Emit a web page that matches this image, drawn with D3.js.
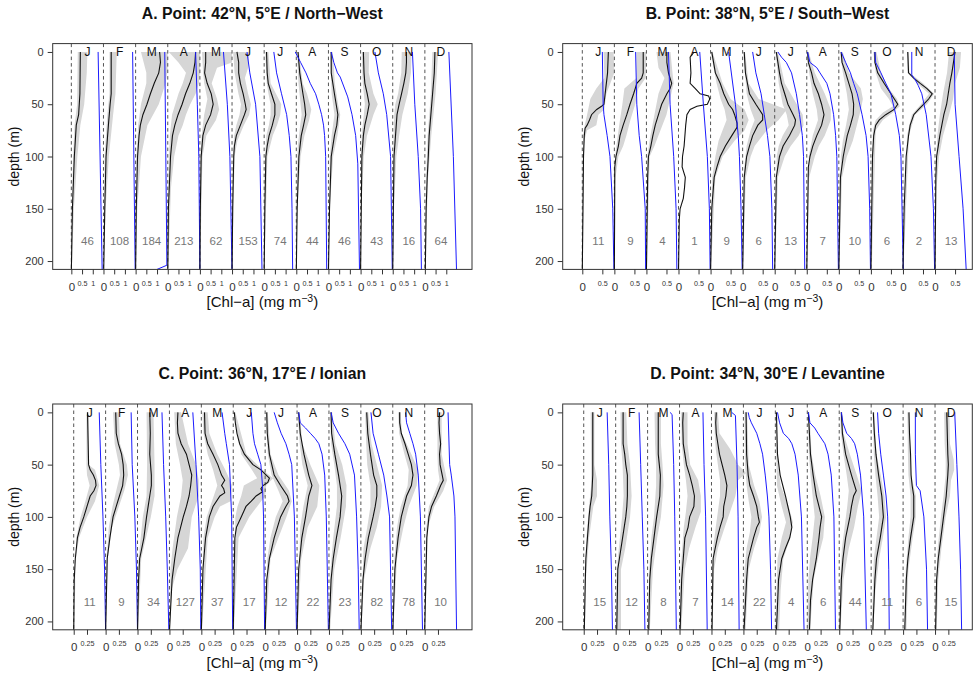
<!DOCTYPE html>
<html><head><meta charset="utf-8">
<script src="https://cdn.jsdelivr.net/npm/d3@7/dist/d3.min.js"></script>
<style>
body{margin:0;background:#fff}
text{font-family:"Liberation Sans",Arial,Helvetica,sans-serif}
</style>
</head><body>
<svg id="chart" width="973" height="676"></svg>
<script>
// ---------------- DATA ----------------
const months = ["J","F","M","A","M","J","J","A","S","O","N","D"];
const depthTicks = [0,50,100,150,200];

// Panel A
const A_title = "A. Point: 42°N, 5°E / North\u2212West";
const A_counts = [46,108,184,213,62,153,74,44,46,43,16,64];
const A_step = 1.5;
const A_smallTicks = [0.5,1];
const A_smallLabels = ["0.5","1"];
const A_black = [
 [[0,.42],[20,.41],[40,.4],[60,.34],[70,.23],[100,.14],[150,.05],[210,0]],
 [[0,.36],[40,.36],[50,.31],[70,.23],[100,.12],[150,.06],[210,.01]],
 [[0,1.12],[10,1.16],[20,1.08],[30,.87],[40,.69],[50,.53],[60,.34],[70,.22],[80,.16],[100,.09],[150,.03],[210,0]],
 [[0,1.3],[10,1.27],[20,1.19],[30,1.03],[40,.83],[50,.67],[60,.48],[70,.33],[80,.22],[100,.13],[150,.03],[210,0]],
 [[0,.27],[10,.27],[20,.22],[30,.34],[40,.53],[50,.62],[60,.5],[70,.27],[80,.14],[100,.06],[150,.02],[210,0]],
 [[0,.23],[10,.31],[20,.31],[30,.39],[40,.52],[50,.62],[55,.66],[60,.58],[70,.39],[80,.2],[90,.11],[100,.08],[150,.03],[210,0]],
 [[0,.11],[20,.14],[30,.19],[40,.34],[50,.5],[60,.5],[70,.38],[80,.23],[90,.14],[100,.08],[150,.03],[210,0]],
 [[0,.08],[20,.16],[40,.31],[50,.39],[60,.44],[70,.34],[80,.23],[100,.12],[150,.04],[210,0]],
 [[0,.13],[20,.13],[40,.28],[60,.44],[70,.39],[80,.28],[100,.13],[150,.05],[210,0]],
 [[0,.13],[20,.16],[30,.2],[40,.31],[50,.4],[60,.31],[70,.2],[80,.13],[100,.06],[210,0]],
 [[0,.64],[10,.64],[20,.61],[30,.52],[40,.41],[50,.3],[60,.2],[80,.13],[100,.06],[150,.03],[210,0]],
 [[0,.47],[20,.44],[40,.36],[60,.28],[80,.2],[100,.16],[120,.11],[150,.06],[210,.02]]
];
const A_blue = [
 [[0,1.25],[210,1.44]],
 [[0,1.36],[210,1.48]],
 [[0,1.36],[204,1.46],[208,1.0]],
 [[0,1.3],[50,1.38],[100,1.45],[210,1.5]],
 [[0,1.1],[50,1.28],[100,1.4],[210,1.5]],
 [[0,.7],[20,.83],[50,1.1],[100,1.3],[210,1.4]],
 [[0,.45],[20,.58],[40,.81],[60,1.05],[80,1.17],[100,1.25],[150,1.3],[210,1.33]],
 [[0,-.05],[10,.2],[20,.45],[30,.65],[40,.9],[50,1.05],[60,1.18],[70,1.27],[80,1.32],[100,1.37],[210,1.42]],
 [[0,.13],[10,.25],[20,.42],[24,.55],[43,.9],[60,1.1],[80,1.27],[107,1.37],[210,1.45]],
 [[0,.67],[20,.83],[40,1.06],[60,1.22],[100,1.4],[210,1.48]],
 [[0,.92],[50,1.03],[100,1.19],[150,1.3],[210,1.34]],
 [[0,1.12],[100,1.33],[210,1.48]]
];
const A_hi = [
 [[0,.75],[20,.72],[50,.6],[70,.42],[100,.28],[150,.12],[210,.02]],
 [[0,.62],[40,.56],[60,.45],[100,.25],[150,.1],[210,.02]],
 [[0,1.5],[15,1.5],[30,1.4],[50,1.08],[70,.55],[100,.25],[150,.08],[210,.01]],
 [[0,1.5],[20,1.5],[30,1.45],[40,1.3],[50,1.05],[60,.85],[70,.7],[80,.5],[100,.3],[130,.15],[210,.02]],
 [[0,1.5],[10,1.5],[15,.8],[30,.55],[45,.8],[55,.9],[65,.75],[80,.3],[100,.12],[210,.01]],
 [[0,.8],[15,.75],[25,.6],[40,.75],[50,.88],[60,.8],[70,.55],[85,.25],[100,.12],[210,.01]],
 [[0,.2],[30,.3],[40,.55],[50,.8],[60,.75],[70,.6],[80,.4],[100,.15],[210,.01]],
 [[0,.12],[30,.3],[40,.5],[55,.7],[65,.6],[80,.38],[100,.2],[150,.05],[210,.01]],
 [[0,.2],[30,.3],[50,.45],[60,.55],[80,.42],[100,.22],[150,.06],[210,.01]],
 [[0,.4],[20,.38],[40,.6],[50,.8],[60,.6],[80,.3],[100,.15],[150,.04],[210,.01]],
 [[0,.88],[20,.85],[40,.7],[60,.45],[80,.3],[100,.17],[150,.06],[210,.01]],
 [[0,.62],[40,.5],[80,.3],[120,.15],[210,.02]]
];
const A_lo = [
 [[0,.3],[50,.27],[70,.15],[100,.08],[150,.03],[210,0]],
 [[0,.28],[40,.28],[60,.18],[100,.05],[210,0]],
 [[0,.25],[20,.5],[30,.5],[50,.25],[70,.12],[100,.04],[210,0]],
 [[0,.05],[10,.5],[20,.85],[30,.7],[40,.5],[50,.35],[60,.2],[80,.1],[100,.05],[210,0]],
 [[0,.1],[20,.15],[30,.2],[45,.35],[60,.2],[80,.08],[100,.03],[210,0]],
 [[0,.05],[20,.12],[40,.3],[50,.42],[60,.35],[70,.2],[80,.1],[100,.04],[210,0]],
 [[0,.05],[30,.12],[40,.2],[50,.3],[60,.3],[70,.22],[80,.1],[100,.04],[210,0]],
 [[0,.03],[30,.1],[50,.2],[60,.25],[70,.18],[90,.07],[120,.02],[210,0]],
 [[0,.07],[40,.15],[60,.28],[80,.15],[100,.06],[210,0]],
 [[0,.05],[30,.1],[50,.2],[60,.15],[80,.05],[210,0]],
 [[0,.42],[20,.4],[40,.25],[50,.12],[60,.07],[100,.02],[210,0]],
 [[0,.35],[40,.28],[80,.13],[120,.06],[210,0]]
];

// Panel B
const B_title = "B. Point: 38°N, 5°E / South\u2212West";
const B_counts = [11,9,4,1,9,6,13,7,10,6,2,13];
const B_step = 0.8;
const B_smallTicks = [0.5];
const B_smallLabels = ["0.5"];
const B_black = [
 [[0,.65],[20,.63],[30,.6],[40,.57],[50,.54],[52,.48],[55,.36],[60,.23],[65,.18],[70,.12],[73,.07],[80,.05],[100,.03],[210,0]],
 [[0,.72],[20,.72],[25,.68],[30,.56],[35,.52],[40,.48],[50,.39],[60,.31],[70,.22],[80,.14],[90,.1],[100,.04],[110,.01],[210,0]],
 [[0,.51],[10,.51],[20,.55],[25,.59],[30,.63],[35,.59],[40,.51],[50,.38],[60,.3],[70,.22],[80,.16],[90,.11],[100,.05],[120,.03],[210,0]],
 [[0,.39],[5,.29],[20,.31],[30,.29],[35,.42],[40,.54],[42,.75],[45,.78],[50,.72],[52,.46],[55,.29],[60,.21],[70,.18],[90,.14],[100,.1],[110,.09],[120,.17],[130,.15],[140,.12],[145,.08],[150,.04],[160,.02],[210,0]],
 [[0,.03],[20,.12],[30,.24],[40,.33],[50,.45],[55,.55],[60,.6],[68,.66],[72,.66],[80,.53],[90,.37],[100,.24],[110,.16],[120,.09],[150,.03],[210,0]],
 [[0,.04],[20,.07],[40,.17],[50,.33],[60,.5],[65,.5],[70,.38],[80,.25],[90,.17],[100,.1],[120,.04],[210,0]],
 [[0,.04],[10,.08],[20,.12],[30,.17],[40,.25],[50,.33],[60,.46],[65,.52],[70,.5],[80,.37],[90,.21],[100,.12],[120,.04],[210,0]],
 [[0,.02],[10,.04],[20,.12],[30,.18],[40,.29],[50,.37],[60,.43],[70,.37],[80,.25],[90,.15],[100,.08],[110,.04],[210,0]],
 [[0,.06],[10,.08],[20,.17],[30,.25],[40,.33],[50,.37],[60,.36],[70,.29],[80,.21],[100,.11],[120,.04],[210,0]],
 [[0,.1],[10,.1],[20,.17],[30,.33],[40,.5],[50,.67],[55,.58],[60,.37],[65,.21],[70,.12],[80,.07],[100,.04],[210,0]],
 [[0,.12],[20,.14],[25,.27],[30,.43],[35,.6],[40,.73],[45,.64],[50,.52],[55,.39],[60,.27],[70,.18],[80,.14],[100,.08],[150,.03],[210,0]],
 [[0,.5],[10,.46],[20,.42],[30,.37],[40,.33],[50,.29],[60,.22],[70,.17],[80,.12],[90,.08],[100,.04],[120,.02],[210,0]]
];
const B_blue = [
 [[0,.5],[50,.52],[60,.54],[80,.62],[100,.69],[150,.76],[210,.79]],
 [[0,.53],[50,.56],[80,.62],[100,.68],[150,.77],[210,.78]],
 [[0,.55],[50,.59],[100,.68],[150,.74],[210,.76]],
 [[0,.53],[50,.62],[100,.72],[150,.77],[210,.79]],
 [[0,.45],[50,.62],[80,.69],[100,.72],[150,.76],[210,.79]],
 [[0,.25],[20,.33],[40,.46],[60,.54],[80,.62],[100,.68],[150,.73],[210,.75]],
 [[0,.08],[5,.17],[10,.29],[20,.42],[40,.54],[60,.62],[80,.69],[100,.72],[210,.75]],
 [[0,.02],[10,.08],[15,.25],[20,.33],[30,.5],[40,.58],[60,.67],[80,.72],[100,.75],[210,.79]],
 [[0,.06],[10,.17],[20,.29],[30,.37],[40,.46],[60,.58],[80,.68],[100,.73],[150,.77],[210,.79]],
 [[0,.1],[10,.12],[20,.25],[30,.37],[40,.5],[60,.62],[80,.71],[100,.75],[210,.81]],
 [[0,.22],[22,.22],[26,.3],[32,.38],[40,.47],[60,.58],[100,.7],[150,.76],[210,.79]],
 [[0,.48],[50,.5],[100,.6],[150,.7],[210,.78]]
];
const B_hi = [
 [[0,.78],[20,.8],[30,.7],[40,.6],[55,.55],[60,.4],[70,.35],[75,.12],[85,.05],[210,.01]],
 [[0,.8],[25,.78],[35,.6],[50,.52],[65,.4],[80,.3],[90,.22],[100,.1],[120,.03],[210,.01]],
 [[0,.6],[20,.65],[30,.68],[40,.62],[60,.5],[80,.3],[90,.2],[100,.08],[210,.01]],
 [],
 [[0,.05],[30,.3],[45,.5],[55,.85],[65,.95],[75,.85],[85,.6],[100,.3],[120,.12],[210,.01]],
 [[0,.06],[30,.15],[45,.4],[55,1.1],[65,.9],[75,.6],[90,.3],[100,.2],[120,.08],[210,.01]],
 [[0,.08],[30,.25],[50,.55],[60,.7],[70,.72],[80,.6],[90,.4],[100,.25],[120,.08],[210,.01]],
 [[0,.05],[20,.2],[40,.45],[55,.6],[65,.6],[80,.45],[90,.3],[100,.2],[120,.06],[210,.01]],
 [[0,.1],[20,.25],[35,.55],[45,.6],[55,.55],[70,.45],[85,.35],[100,.2],[120,.08],[210,.01]],
 [[0,.14],[20,.25],[35,.45],[45,.65],[52,.72],[58,.55],[65,.3],[75,.12],[210,.02]],
 [[0,.14],[20,.16],[30,.5],[40,.78],[50,.6],[60,.3],[80,.15],[210,.01]],
 [[0,.65],[15,.62],[30,.5],[45,.45],[60,.35],[80,.2],[100,.1],[130,.04],[210,.01]]
];
const B_lo = [
 [[0,.53],[25,.55],[35,.35],[45,.2],[60,.12],[70,.06],[80,.02],[210,0]],
 [[0,.55],[25,.55],[35,.25],[50,.2],[70,.12],[90,.05],[100,.02],[210,0]],
 [[0,.25],[15,.3],[25,.45],[40,.3],[60,.2],[80,.1],[90,.06],[100,.02],[210,0]],
 [],
 [[0,0],[30,.15],[45,.25],[55,.35],[65,.4],[75,.3],[85,.2],[100,.12],[120,.04],[210,0]],
 [[0,.02],[40,.1],[55,.2],[65,.3],[75,.2],[90,.1],[110,.04],[210,0]],
 [[0,.02],[30,.1],[50,.2],[60,.3],[70,.35],[80,.2],[90,.1],[100,.05],[210,0]],
 [[0,.01],[20,.06],[40,.15],[55,.25],[65,.28],[80,.15],[100,.05],[210,0]],
 [[0,.03],[20,.1],[40,.2],[55,.25],[70,.18],[85,.1],[100,.05],[210,0]],
 [[0,.06],[20,.12],[35,.25],[45,.45],[52,.55],[58,.3],[65,.12],[75,.05],[210,0]],
 [[0,.1],[20,.11],[30,.35],[40,.65],[50,.45],[60,.22],[80,.1],[210,0]],
 [[0,.35],[20,.3],[40,.2],[60,.12],[80,.06],[100,.03],[210,0]]
];

// Panel C
const C_title = "C. Point: 36°N, 17°E / Ionian";
const C_counts = [11,9,34,127,37,17,12,22,23,82,78,10];
const C_step = 0.6;
const C_smallTicks = [0.25];
const C_smallLabels = ["0.25"];
const C_black = [
 [[0,.26],[50,.28],[55,.31],[60,.37],[65,.41],[70,.42],[75,.38],[80,.31],[90,.25],[100,.19],[110,.12],[120,.07],[140,.03],[160,.01],[210,0]],
 [[0,.19],[20,.2],[30,.24],[40,.3],[50,.33],[60,.34],[70,.32],[80,.26],[90,.2],[100,.14],[120,.08],[140,.03],[210,0]],
 [[0,.23],[20,.24],[40,.23],[60,.26],[70,.26],[80,.23],[90,.2],[100,.17],[120,.12],[140,.04],[160,.02],[210,0]],
 [[0,.16],[10,.15],[20,.16],[30,.22],[40,.32],[50,.37],[60,.42],[70,.4],[80,.37],[90,.32],[100,.26],[120,.16],[140,.1],[160,.05],[210,0]],
 [[0,.06],[20,.07],[30,.12],[40,.22],[50,.31],[60,.38],[65,.44],[70,.38],[73,.42],[77,.44],[80,.35],[90,.22],[100,.15],[120,.08],[150,.03],[210,0]],
 [[0,.02],[10,.04],[20,.07],[30,.12],[40,.21],[50,.37],[55,.52],[60,.62],[63,.68],[67,.65],[70,.56],[73,.52],[76,.55],[80,.43],[85,.34],[90,.24],[100,.15],[110,.06],[120,.03],[210,0]],
 [[0,.03],[20,.04],[40,.08],[60,.17],[70,.29],[80,.42],[85,.45],[90,.39],[100,.29],[110,.23],[120,.17],[140,.08],[160,.03],[210,0]],
 [[0,.03],[20,.06],[40,.13],[60,.22],[70,.28],[75,.25],[80,.22],[100,.16],[120,.09],[150,.03],[210,0]],
 [[0,.04],[20,.05],[40,.11],[60,.18],[80,.24],[100,.21],[120,.14],[140,.08],[160,.04],[210,0]],
 [[0,.11],[20,.13],[40,.18],[60,.24],[70,.3],[80,.3],[90,.27],[100,.23],[120,.14],[140,.08],[160,.04],[210,0]],
 [[0,.13],[10,.13],[20,.16],[30,.23],[40,.29],[50,.35],[60,.38],[70,.35],[80,.26],[100,.16],[120,.1],[150,.04],[210,0]],
 [[0,.28],[10,.27],[20,.28],[30,.3],[40,.28],[50,.29],[60,.33],[65,.35],[70,.3],[80,.22],[90,.13],[100,.08],[120,.04],[210,0]]
];
const C_blue = [
 [[0,.48],[50,.51],[100,.55],[150,.58],[210,.6]],
 [[0,.48],[50,.5],[100,.55],[150,.58],[210,.6]],
 [[0,.46],[50,.49],[100,.53],[150,.56],[210,.59]],
 [[0,.44],[50,.5],[100,.55],[150,.58],[210,.59]],
 [[0,.39],[20,.44],[30,.47],[50,.53],[100,.57],[210,.59]],
 [[0,.34],[20,.37],[30,.4],[40,.46],[50,.52],[70,.55],[100,.57],[210,.59]],
 [[0,.17],[10,.23],[20,.3],[30,.39],[40,.45],[50,.5],[100,.55],[210,.59]],
 [[0,.03],[10,.06],[15,.16],[20,.25],[25,.34],[30,.41],[40,.47],[60,.52],[100,.55],[210,.59]],
 [[0,.04],[10,.08],[20,.18],[30,.3],[40,.39],[60,.48],[100,.52],[150,.55],[210,.57]],
 [[0,.19],[20,.23],[40,.33],[60,.43],[80,.49],[100,.54],[210,.58]],
 [[0,.24],[10,.26],[20,.32],[30,.38],[40,.43],[60,.48],[100,.52],[210,.56]],
 [[0,.44],[50,.47],[60,.5],[80,.55],[100,.57],[210,.6]]
];
const C_hi = [
 [[0,.28],[50,.28],[55,.4],[70,.48],[85,.4],[100,.25],[120,.1],[140,.04],[210,.01]],
 [[0,.25],[30,.27],[50,.4],[60,.42],[75,.35],[90,.25],[110,.12],[140,.04],[210,.01]],
 [[0,.3],[50,.32],[80,.32],[100,.25],[120,.16],[140,.07],[210,.01]],
 [[0,.22],[30,.35],[50,.5],[65,.55],[80,.55],[100,.42],[130,.35],[150,.15],[170,.04],[210,.01]],
 [[0,.12],[20,.15],[40,.3],[55,.45],[70,.58],[85,.55],[90,.35],[100,.25],[120,.12],[210,.01]],
 [[0,.04],[40,.25],[55,.55],[63,.75],[70,.62],[80,.6],[90,.45],[100,.3],[120,.1],[210,.01]],
 [[0,.05],[40,.1],[60,.25],[75,.45],[85,.5],[100,.4],[120,.25],[140,.1],[210,.01]],
 [[0,.05],[30,.1],[50,.25],[70,.42],[90,.38],[110,.2],[140,.08],[210,.01]],
 [[0,.06],[30,.12],[50,.25],[70,.33],[90,.32],[120,.22],[150,.1],[210,.02]],
 [[0,.14],[30,.2],[50,.3],[70,.4],[90,.38],[110,.3],[130,.18],[160,.06],[210,.01]],
 [[0,.15],[20,.17],[40,.35],[55,.48],[70,.45],[90,.3],[110,.2],[140,.08],[210,.01]],
 [[0,.32],[40,.32],[55,.38],[65,.42],[75,.35],[90,.18],[110,.06],[210,.01]]
];
const C_lo = [
 [[0,.24],[50,.24],[60,.25],[70,.3],[85,.22],[100,.13],[120,.05],[210,0]],
 [[0,.14],[30,.17],[50,.25],[60,.27],[75,.2],[90,.13],[110,.06],[140,.02],[210,0]],
 [[0,.17],[50,.18],[80,.17],[100,.1],[120,.06],[140,.02],[210,0]],
 [[0,.09],[30,.12],[50,.2],[65,.25],[80,.22],[100,.14],[130,.06],[150,.02],[210,0]],
 [[0,.02],[20,.04],[40,.12],[55,.22],[70,.3],[85,.2],[100,.1],[120,.04],[210,0]],
 [[0,.01],[40,.15],[55,.35],[63,.45],[70,.2],[80,.15],[90,.08],[100,.04],[210,0]],
 [[0,.01],[40,.05],[60,.12],[75,.25],[85,.33],[100,.2],[120,.1],[140,.04],[210,0]],
 [[0,.01],[30,.05],[50,.1],[70,.2],[90,.12],[110,.06],[210,0]],
 [[0,.02],[30,.04],[50,.1],[70,.15],[90,.15],[120,.08],[150,.03],[210,0]],
 [[0,.08],[30,.1],[50,.12],[70,.18],[90,.18],[110,.12],[130,.05],[210,0]],
 [[0,.1],[20,.12],[40,.22],[55,.3],[70,.28],[90,.15],[110,.08],[140,.03],[210,0]],
 [[0,.24],[40,.24],[55,.25],[65,.28],[75,.2],[90,.08],[110,.03],[210,0]]
];

// Panel D
const D_title = "D. Point: 34°N, 30°E / Levantine";
const D_counts = [15,12,8,7,14,22,4,6,44,11,6,15];
const D_step = 0.6;
const D_smallTicks = [0.25];
const D_smallLabels = ["0.25"];
const D_black = [
 [[0,.17],[60,.17],[70,.16],[80,.15],[90,.12],[100,.1],[120,.07],[140,.04],[160,.03],[210,.01]],
 [[0,.14],[30,.14],[40,.17],[50,.19],[60,.22],[80,.22],[90,.21],[100,.19],[120,.13],[140,.07],[150,.04],[210,.02]],
 [[0,.2],[40,.2],[50,.22],[60,.24],[80,.23],[100,.17],[120,.12],[140,.07],[160,.04],[210,.02]],
 [[0,.07],[10,.06],[30,.07],[40,.1],[50,.13],[60,.19],[70,.24],[80,.28],[90,.27],[100,.19],[110,.16],[120,.1],[140,.07],[160,.04],[210,.01]],
 [[0,.09],[10,.08],[20,.09],[30,.12],[40,.15],[50,.2],[60,.25],[70,.29],[80,.27],[90,.23],[100,.22],[110,.16],[120,.11],[140,.03],[210,.01]],
 [[0,.05],[40,.06],[60,.09],[70,.12],[80,.19],[90,.25],[100,.28],[105,.3],[110,.25],[120,.19],[140,.09],[160,.06],[210,.01]],
 [[0,.02],[20,.03],[40,.04],[60,.09],[80,.19],[100,.28],[110,.31],[120,.27],[130,.19],[140,.12],[160,.06],[210,.02]],
 [[0,.02],[20,.04],[40,.06],[60,.11],[80,.17],[100,.27],[110,.24],[120,.22],[140,.17],[160,.1],[180,.06],[210,.04]],
 [[0,.04],[20,.06],[40,.12],[60,.23],[70,.29],[75,.32],[80,.27],[90,.23],[100,.2],[120,.12],[140,.07],[160,.04],[210,.01]],
 [[0,.04],[20,.06],[40,.09],[60,.14],[80,.2],[100,.23],[110,.2],[120,.17],[140,.1],[160,.07],[210,.03]],
 [[0,.11],[20,.12],[40,.14],[60,.15],[70,.17],[80,.2],[100,.2],[110,.17],[120,.14],[140,.09],[160,.06],[210,.03]],
 [[0,.22],[20,.23],[40,.24],[50,.25],[60,.24],[80,.21],[100,.16],[120,.11],[140,.06],[160,.03],[210,.01]]
];
const D_blue = [
 [[0,.44],[50,.47],[100,.49],[150,.52],[210,.54]],
 [[0,.44],[50,.47],[100,.5],[150,.53],[210,.55]],
 [[0,.42],[2,.46],[50,.49],[100,.51],[210,.54]],
 [[0,.44],[50,.46],[100,.49],[210,.52]],
 [[0,.38],[3,.45],[50,.48],[100,.5],[210,.52]],
 [[0,.09],[5,.11],[10,.15],[20,.25],[30,.31],[40,.36],[60,.41],[80,.45],[100,.48],[150,.51],[210,.53]],
 [[0,.04],[10,.08],[20,.15],[25,.25],[30,.31],[40,.37],[60,.43],[100,.49],[210,.54]],
 [[0,.02],[10,.05],[15,.14],[20,.2],[30,.33],[40,.39],[60,.45],[100,.5],[210,.53]],
 [[0,.04],[10,.07],[20,.14],[25,.23],[30,.29],[40,.34],[60,.4],[100,.46],[210,.51]],
 [[0,.12],[20,.14],[40,.18],[60,.23],[80,.28],[100,.31],[150,.33],[210,.34]],
 [[0,.23],[40,.23],[70,.25],[75,.32],[100,.39],[150,.44],[210,.46]],
 [[0,.37],[50,.41],[100,.45],[150,.48],[210,.5]]
];
const D_hi = [
 [[0,.2],[50,.2],[65,.25],[80,.25],[90,.18],[120,.1],[160,.04],[210,.02]],
 [[0,.2],[30,.22],[50,.27],[80,.3],[100,.27],[130,.18],[150,.1],[180,.1],[210,.1]],
 [[0,.25],[30,.25],[50,.28],[70,.3],[100,.25],[120,.18],[150,.1],[210,.04]],
 [[0,.15],[30,.15],[50,.2],[65,.35],[80,.4],[95,.4],[110,.3],[130,.18],[150,.1],[210,.03]],
 [[0,.12],[20,.15],[35,.35],[50,.5],[58,.65],[65,.5],[80,.45],[95,.35],[110,.25],[130,.12],[150,.05],[210,.02]],
 [[0,.07],[50,.1],[70,.2],[85,.3],[100,.35],[115,.3],[130,.2],[150,.1],[210,.04]],
 [[0,.02],[50,.05],[70,.1],[90,.25],[105,.33],[120,.28],[140,.15],[170,.1],[210,.07]],
 [[0,.04],[40,.08],[60,.15],[80,.25],[100,.33],[120,.3],[140,.2],[160,.12],[210,.05]],
 [[0,.06],[20,.08],[40,.2],[60,.33],[75,.42],[90,.35],[110,.28],[130,.18],[160,.08],[210,.02]],
 [[0,.06],[40,.1],[60,.18],[80,.25],[100,.28],[120,.22],[140,.15],[170,.08],[210,.04]],
 [[0,.12],[40,.13],[60,.15],[80,.24],[100,.24],[120,.18],[150,.1],[210,.06]],
 [[0,.27],[30,.28],[45,.35],[55,.36],[65,.3],[80,.28],[100,.2],[130,.12],[160,.06],[210,.03]]
];
const D_lo = [
 [[0,.13],[50,.14],[70,.14],[90,.1],[120,.05],[160,.02],[210,0]],
 [[0,.09],[30,.1],[50,.13],[80,.15],[100,.12],[130,.06],[150,.02],[210,0]],
 [[0,.13],[30,.14],[50,.16],[70,.16],[100,.12],[120,.07],[150,.03],[210,.01]],
 [[0,.03],[30,.04],[50,.08],[65,.12],[80,.15],[95,.12],[110,.08],[130,.05],[150,.02],[210,0]],
 [[0,.05],[20,.06],[35,.08],[50,.12],[65,.16],[80,.16],[95,.12],[110,.08],[130,.03],[210,0]],
 [[0,.02],[50,.03],[70,.06],[85,.1],[100,.15],[115,.12],[130,.06],[150,.02],[210,0]],
 [[0,0],[70,.03],[90,.12],[105,.2],[120,.12],[140,.04],[210,0]],
 [[0,.01],[40,.03],[60,.06],[80,.1],[100,.14],[120,.1],[140,.05],[160,.02],[210,0]],
 [[0,.02],[20,.03],[40,.08],[60,.14],[75,.18],[90,.15],[110,.1],[130,.05],[160,.02],[210,0]],
 [[0,.03],[40,.05],[60,.08],[80,.12],[100,.15],[120,.1],[140,.05],[210,.01]],
 [[0,.08],[40,.09],[60,.1],[80,.14],[100,.14],[120,.1],[150,.05],[210,.02]],
 [[0,.17],[30,.18],[45,.2],[60,.2],[80,.16],[100,.11],[130,.05],[160,.02],[210,0]]
];

// ---------------- LAYOUT ----------------
const panels = [
 {title:A_title, counts:A_counts, step:A_step, st:A_smallTicks, sl:A_smallLabels, black:A_black, blue:A_blue, hi:A_hi, lo:A_lo,
  box:[52.7,43.6,472,269.4], xdom:[-0.87,18.7]},
 {title:B_title, counts:B_counts, step:B_step, st:B_smallTicks, sl:B_smallLabels, black:B_black, blue:B_blue, hi:B_hi, lo:B_lo,
  box:[562.7,43.6,972.3,269.4], xdom:[-0.489,9.73]},
 {title:C_title, counts:C_counts, step:C_step, st:C_smallTicks, sl:C_smallLabels, black:C_black, blue:C_blue, hi:C_hi, lo:C_lo,
  box:[52.7,404,472,629.8], xdom:[-0.395,7.49]},
 {title:D_title, counts:D_counts, step:D_step, st:D_smallTicks, sl:D_smallLabels, black:D_black, blue:D_blue, hi:D_hi, lo:D_lo,
  box:[562.7,404,972.3,629.8], xdom:[-0.395,7.30]}
];

const svg = d3.select("#chart");
const axisCol = "#333";

panels.forEach((p, pi) => {
  const [L,T,R,B] = p.box;
  const x = d3.scaleLinear().domain(p.xdom).range([L,R]);
  const y = d3.scaleLinear().domain([-8,208]).range([T,B]);
  const g = svg.append("g");
  const cid = "clip" + pi;
  g.append("clipPath").attr("id", cid).append("rect")
    .attr("x", L).attr("y", T).attr("width", R-L).attr("height", B-T);
  const plot = g.append("g").attr("clip-path", `url(#${cid})`);

  // bands
  months.forEach((m,i) => {
    const off = i*p.step;
    const line = d3.line().x(d => x(off + d[1])).y(d => y(d[0]));
    if (p.hi[i].length) {
      plot.append("path")
        .attr("d", line(p.hi[i].concat(p.lo[i].slice().reverse())) + "Z")
        .attr("fill", "#d6d6d6").attr("stroke", "none");
    }
  });
  // dashed zero lines
  months.forEach((m,i) => {
    const off = i*p.step;
    plot.append("line").attr("x1", x(off)).attr("x2", x(off))
      .attr("y1", T).attr("y2", B)
      .attr("stroke", "#555").attr("stroke-width", 1).attr("stroke-dasharray", "3.5,3");
  });
  // black and blue profiles
  months.forEach((m,i) => {
    const off = i*p.step;
    const line = d3.line().x(d => x(off + d[1])).y(d => y(d[0]));
    plot.append("path").attr("d", line(p.black[i]))
      .attr("fill","none").attr("stroke","#111").attr("stroke-width",1.1);
    plot.append("path").attr("d", line(p.blue[i]))
      .attr("fill","none").attr("stroke","#1a1aff").attr("stroke-width",1);
  });
  // month letters and counts
  months.forEach((m,i) => {
    const cx = x(i*p.step + p.step/2);
    g.append("text").attr("x", cx).attr("y", y(0) + 4.3)
      .attr("text-anchor","middle").attr("font-size", 12).attr("fill","#111").text(m);
    g.append("text").attr("x", cx).attr("y", y(185))
      .attr("text-anchor","middle").attr("font-size", 11.5).attr("fill","#777").text(p.counts[i]);
  });

  // y axis
  const ya = g.append("g").attr("transform", `translate(${L},0)`)
    .call(d3.axisLeft(y).tickValues(depthTicks).tickSize(5).tickPadding(4));
  ya.select(".domain").remove();
  ya.selectAll("line").attr("stroke", axisCol);
  ya.selectAll("text").attr("font-size", 11).attr("fill", axisCol).attr("font-family", null);

  // x axes: zeros and small ticks
  const zeros = months.map((m,i) => i*p.step);
  const xa0 = g.append("g").attr("transform", `translate(0,${B})`)
    .call(d3.axisBottom(x).tickValues(zeros).tickFormat(() => "0").tickSize(5).tickPadding(8.5));
  xa0.select(".domain").remove();
  xa0.selectAll("line").attr("stroke", axisCol);
  xa0.selectAll("text").attr("font-size", 11.5).attr("fill", axisCol).attr("font-family", null);

  const smallVals = [], smallMap = new Map();
  months.forEach((m,i) => p.st.forEach((t,k) => {
    const v = +(i*p.step + t).toFixed(4);
    smallVals.push(v); smallMap.set(v, p.sl[k]);
  }));
  const xa1 = g.append("g").attr("transform", `translate(0,${B})`)
    .call(d3.axisBottom(x).tickValues(smallVals).tickFormat(v => smallMap.get(+v.toFixed(4))).tickSize(5).tickPadding(6.5));
  xa1.select(".domain").remove();
  xa1.selectAll("line").attr("stroke", axisCol);
  xa1.selectAll("text").attr("font-size", 7.2).attr("fill", axisCol).attr("font-family", null);

  // box
  g.append("rect").attr("x", L).attr("y", T).attr("width", R-L).attr("height", B-T)
    .attr("fill","none").attr("stroke", axisCol).attr("stroke-width", 1);

  // titles
  g.append("text").attr("x", (L+R)/2).attr("y", T - 25)
    .attr("text-anchor","middle").attr("font-size", 15.8).attr("font-weight","bold").attr("fill","#111").text(p.title);
  const xt = g.append("text").attr("x", (L+R)/2).attr("y", B + 38)
    .attr("text-anchor","middle").attr("font-size", 15).attr("fill","#111");
  xt.append("tspan").text("[Chl\u2212a] (mg m");
  xt.append("tspan").attr("dy", -5).attr("font-size", 10.5).text("\u22123");
  xt.append("tspan").attr("dy", 5).text(")");
  g.append("text").attr("transform", `translate(${L-34},${(T+B)/2}) rotate(-90)`)
    .attr("text-anchor","middle").attr("font-size", 14).attr("fill","#111").text("depth (m)");
});
</script>
</body></html>
